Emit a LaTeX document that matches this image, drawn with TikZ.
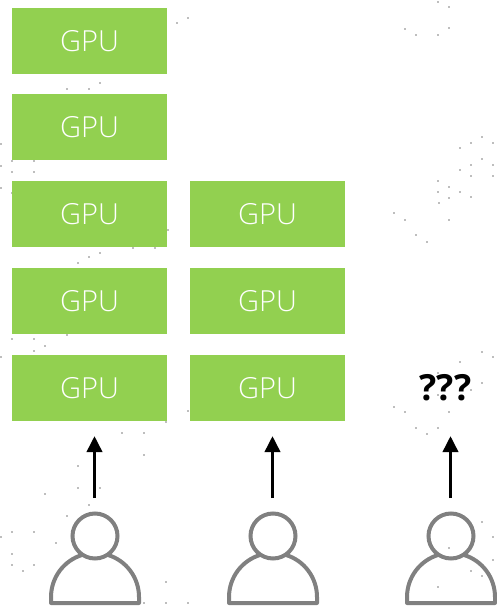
\documentclass[tikz,border=0pt]{standalone}
\usepackage{fontspec}
\setmainfont{Open Sans}[UprightFont=* Light]
\newfontfamily\boldq{Open Sans}[UprightFont=* Bold]
\usetikzlibrary{arrows.meta}
\definecolor{gpugreen}{HTML}{92D050}
\definecolor{usergray}{HTML}{808080}
\definecolor{speck}{HTML}{BEBEBE}
\tikzset{
  gpubox/.style={fill=gpugreen,minimum width=155pt,minimum height=66pt,inner sep=0pt,text=white,font=\fontsize{29}{32}\selectfont},
  userhead/.style={circle,draw=usergray,line width=4pt,minimum size=45pt,inner sep=0pt},
  userbody/.style={draw=usergray,line width=4pt,line join=round},
  upflow/.style={line width=3.6pt,-{Triangle[length=16pt,width=15pt]}},
  qmark/.style={font=\boldq\fontsize{36}{40}\selectfont,text=black,inner sep=0pt},
}
\begin{document}
\begin{tikzpicture}[x=1pt,y=1pt]
\useasboundingbox (0,-606) rectangle (497,0);
% background speckle
\foreach \sx/\sy in {45/346,34/351,1/357,122/433,144/433,144/455,78/466,78/488,100/488,45/494,89/505,67/516,12/532,34/532,12/554,12/565,34/565,166/582,166/422,188/411,144/603,166/603,188/603,56/543,23/571,1/537,
 460/362,482/352,493/357,482/383,471/390,438/373,438/395,449/412,416/428,438/428,427/434,405/412,394/407,482/522,493/537,493/560,471/571,482/576,438/587,449/548,
 438/2,449/7,405/29,416/35,438/35,449/28,482/137,471/143,493/143,460/148,482/159,471/165,493/165,460/170,471/176,493/176,438/181,449/187,438/192,460/192,449/198,471/197,439/203,394/213,405/220,449/220,416/235,427/242,
 177/23,188/18,67/89,89/89,100/83,1/144,12/161,34/161,1/166,12/172,34/172,1/188,12/193,78/263,89/257,100/253,133/248,155/248,67/335,34/339,12/339,168/230}
 {\fill[speck] (\sx-1,-\sy-1) rectangle (\sx+1,-\sy+1);}
\node[gpubox] (a5) at (89.5,-41) {GPU};
\node[gpubox] (a4) at (89.5,-127) {GPU};
\node[gpubox] (a3) at (89.5,-214) {GPU};
\node[gpubox] (a2) at (89.5,-301) {GPU};
\node[gpubox] (a1) at (89.5,-388) {GPU};
\node[gpubox] (b3) at (267.5,-214) {GPU};
\node[gpubox] (b2) at (267.5,-301) {GPU};
\node[gpubox] (b1) at (267.5,-388) {GPU};
\node[qmark] (q) at (445.5,-388) {???};
\foreach \n/\x in {p1/95,p2/273,p3/451}{
  \node[userhead] (\n) at (\x,-536) {};
  \draw[userbody] (\x-12.4,-554.8) arc[start angle=106.4,end angle=180,radius=44] -- (\x-44,-603) -- (\x+44,-603) -- (\x+44,-597) arc[start angle=0,end angle=73.6,radius=44];
}
\coordinate (t1) at (94.5,-436);
\coordinate (t2) at (272.5,-436);
\coordinate (t3) at (450.5,-436);
\coordinate (s1) at (94.5,-498);
\coordinate (s2) at (272.5,-498);
\coordinate (s3) at (450.5,-498);
\draw[upflow] (s1) -- (t1);
\draw[upflow] (s2) -- (t2);
\draw[upflow] (s3) -- (t3);
\end{tikzpicture}
\end{document}
